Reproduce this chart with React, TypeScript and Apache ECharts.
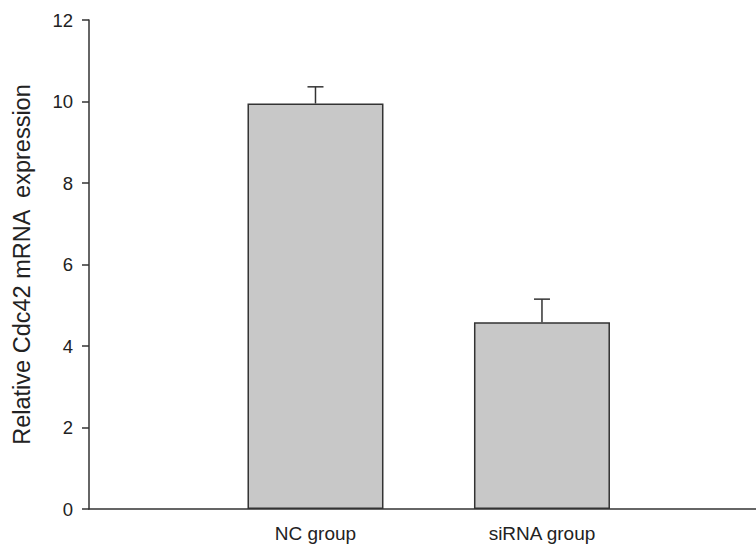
import React, { useEffect, useRef } from "react";
import * as echarts from "echarts";

const categories = ["NC group", "siRNA group"];
const positions = [1, 2];
const values = [9.95, 4.58];
const errors = [0.41, 0.57];
const yTicks = { min: 0, max: 12, interval: 2 };

export default function App() {
  const ref = useRef<HTMLDivElement>(null);
  useEffect(() => {
    if (!ref.current) return;
    const chart = echarts.init(ref.current, null, { renderer: "svg" });
    const font = "'Liberation Sans', Arial, sans-serif";
    chart.setOption({
      animation: false,
      backgroundColor: "#ffffff",
      grid: {
        left: 89,
        right: 0,
        top: 20,
        bottom: 40,
        containLabel: false,
        outerBoundsMode: "none",
      },
      xAxis: {
        type: "value",
        min: 0,
        max: 2.945,
        interval: 1,
        splitLine: { show: false },
        axisTick: { show: false },
        axisLine: { show: true, onZero: false, lineStyle: { color: "#333", width: 1.5 } },
        axisLabel: {
          showMaxLabel: false,
          margin: 15,
          fontFamily: font,
          fontSize: 19,
          color: "#222",
          formatter: (v: number) => {
            const i = positions.indexOf(Math.round(v));
            return i >= 0 && Math.abs(v - positions[i]) < 1e-6 ? categories[i] : "";
          },
        },
      },
      yAxis: {
        type: "value",
        min: yTicks.min,
        max: yTicks.max,
        interval: yTicks.interval,
        splitLine: { show: false },
        axisLine: { show: true, lineStyle: { color: "#333", width: 1.5 } },
        axisTick: { show: true, inside: false, length: 7, lineStyle: { color: "#333", width: 1.5 } },
        axisLabel: { margin: 16, fontFamily: font, fontSize: 18.5, color: "#222" },
        name: "Relative Cdc42 mRNA  expression",
        nameLocation: "middle",
        nameGap: 55,
        nameRotate: 90,
        nameTextStyle: { fontFamily: font, fontSize: 23.5, color: "#222" },
      },
      series: [
        {
          type: "bar",
          data: positions.map((p, i) => [p, values[i]]),
          barWidth: 136,
          itemStyle: { color: "#c8c8c8", borderColor: "#333", borderWidth: 1.5 },
          z: 2,
        },
        {
          type: "custom",
          z: 3,
          data: positions.map((p, i) => [p, values[i], values[i] + errors[i]]),
          renderItem: (params: any, api: any) => {
            const base = api.coord([api.value(0), api.value(1)]);
            const top = api.coord([api.value(0), api.value(2)]);
            const half = 8;
            return {
              type: "group",
              children: [
                {
                  type: "line",
                  shape: { x1: base[0], y1: base[1], x2: top[0], y2: top[1] },
                  style: { stroke: "#333", lineWidth: 1.5 },
                },
                {
                  type: "line",
                  shape: { x1: top[0] - half, y1: top[1], x2: top[0] + half, y2: top[1] },
                  style: { stroke: "#333", lineWidth: 1.5 },
                },
              ],
            };
          },
        },
      ],
    });
    return () => chart.dispose();
  }, []);
  return (
    <div
      ref={ref}
      style={{ position: "fixed", left: 0, top: 0, width: 756, height: 549, background: "#fff" }}
    />
  );
}
